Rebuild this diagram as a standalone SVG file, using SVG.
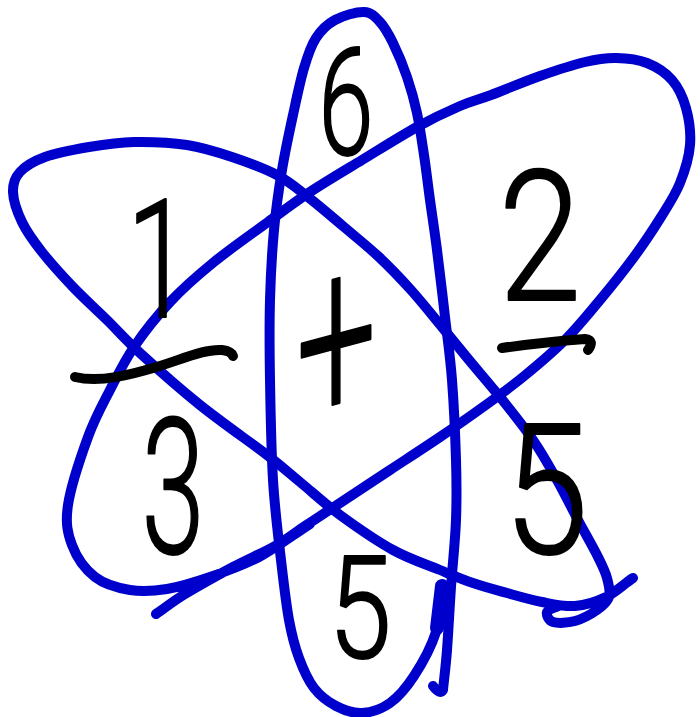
<svg xmlns="http://www.w3.org/2000/svg" width="700" height="717" viewBox="0 0 700 717">
<style>
.loop{fill:none;stroke:#0000cc;stroke-width:10;stroke-linecap:round;stroke-linejoin:round}
.ink{fill:none;stroke:#000;stroke-width:10;stroke-linecap:round;stroke-linejoin:round}
.dig{font-family:Roboto,"Liberation Sans",Arial,sans-serif;font-weight:300;fill:#000;stroke:#000;stroke-width:2;stroke-linejoin:round;text-anchor:middle}
.plus{font-family:"Liberation Serif","Times New Roman",serif;fill:#000;stroke:#000;stroke-width:3;stroke-linejoin:round;text-anchor:middle}
</style>
<rect width="700" height="717" fill="#fff"/>
<g id="loops">
<path id="loop-vertical" class="loop" d="M442,588 C440,603 440.7,617.3 436,632 S421.7,664.2 414,676 S398.7,696.8 390,703 S371,712.5 362,713 S344,710.2 336,706 S320.2,696 314,688 S303.2,669.3 299,658 S292,636.3 289,620 S283.7,583.3 281,560 S274.8,510 273,480 S270.5,410 270,380 S269.3,325 270,300 S272,251.7 274,230 S278.8,189.2 282,170 S289.3,132 293,115 S300.2,80.8 304,68 S310.8,46 316,38 S327,24.3 335,20 S356.5,11.7 364,12 S375.2,16.8 380,22 S388.5,33.8 393,43 S403,65.3 407,77 S414.2,100 417,113 S421.8,140.5 424,155 S427.8,184.2 430,200 S434.5,230.5 437,250 S442.5,295.3 445,317 S450.2,356.2 452,380 S455.3,436.7 456,460 S456.8,498.8 456,520 S452.5,565.3 451,587 S448.3,632.8 447,650 S444.3,676.7 443,690 Q440,695 433,686"/>
<path class="loop" style="stroke-width:14" d="M442,586 L437,628"/>
<path id="loop-left" class="loop" d="M633,578 C624,584 615.7,592.3 606,597 S585.7,605.2 575,606 S553.3,604.2 542,602 S518.5,596.2 507,593 S484.2,586.8 473,583 S453.3,575.5 440,570 S409.7,559.2 393,550 S355.5,526.3 340,515 S312.2,492 300,482 S283.7,467.8 267,455 S221.2,422 200,405 S155.5,367.2 140,353 S118.2,331 107,320 S83.8,298.3 73,287 S50.5,262.8 42,252 S26.8,232 22,222 S13.3,200.3 13,192 S14.7,177.8 20,172 S33.5,161.2 45,157 S74.2,149.5 89,147 S117.7,142.3 134,142 S170.7,142.5 187,145 S217,152 232,157 S264.3,168.3 277,175 S296.8,188.3 308,197 S332.2,217 344,227 S367.8,246.5 379,257 S400.5,278.3 411,290 S432.3,315.3 442,327 S459.3,348.3 469,360 S489.3,383.7 500,397 S523.5,426.2 533,440 S549.5,466.7 557,480 S571.2,507.2 578,520 S593.2,547.3 598,557 S605.2,571.3 607,578 S610.7,591.7 609,597 S602.7,606 597,610 S582.3,619 575,621 S557.7,623.5 553,622 S546.2,614.7 547,612 S554.3,608 558,606"/>
<path id="loop-right" class="loop" d="M156,614 C165,608 172.2,601.8 185,594 S218,575 233,567 S263,552.8 275,546 S294.2,533.2 305,526 S325.8,512.3 340,503 S373.3,481 390,470 S424.5,447.5 440,437 S469.2,417 483,407 S509.3,388.2 523,377 S552.2,352.8 565,340 S588.5,313.8 600,300 S623.8,270.8 634,257 S653.3,229.3 661,217 S675.2,195 680,183 S689,157.5 690,145 S689,118.8 686,108 S678.5,87.5 672,80 S656.3,66.7 647,63 S626.3,58.2 616,58 S597.7,59 585,62 S555.7,70.5 540,76 S504.3,90 491,95 S472.3,100.7 460,106 S433.3,118 417,127 S379.8,149.2 362,160 S325.7,181.7 310,192 S284,210.3 268,222 S230.3,248.7 214,262 S183.3,287.8 170,302 S144,332.3 134,347 S117.7,375 110,390 S95,417.8 88,437 S70.7,487 68,505 S67.5,533 72,545 S85.3,569.5 95,577 S118,588 130,590 S153.7,591.2 167,589 S194.7,582.3 210,577 S242.3,565.8 259,557 S293,535 310,524"/>
</g>
<g id="frac-left">
<text class="dig" font-size="166" transform="translate(159,317) scale(0.7,1)">1</text>
<path class="ink" d="M75,377 C100,383 130,375 160,366 C185,358 205,349 222,350 Q231,351 233,356"/>
<text class="dig" font-size="190" transform="translate(173,553) scale(0.6,1)">3</text>
</g>
<g id="top-6">
<text class="dig" font-size="151" transform="translate(346,155) scale(0.66,1)">6</text>
</g>
<g id="plus">
<text class="plus" font-size="267" transform="translate(336,430) skewY(-15) scale(0.556,1)">+</text>
</g>
<g id="frac-right">
<text class="dig" font-size="182" transform="translate(540,300) scale(0.82,1)">2</text>
<path class="ink" d="M502,348 Q545,342 585,339 Q595,340 588,350"/>
<text class="dig" font-size="182" transform="translate(546,553) scale(0.84,1)">5</text>
</g>
<g id="bottom-5">
<text class="dig" font-size="142" transform="translate(360,658) scale(0.8,1)">5</text>
</g>
</svg>
